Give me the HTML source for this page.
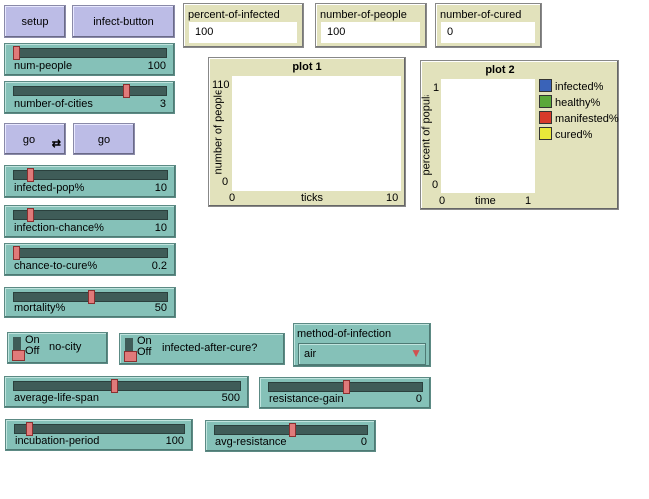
<!DOCTYPE html>
<html><head><style>
body{margin:0;width:649px;height:499px;background:#fff;position:relative;overflow:hidden;font-family:"Liberation Sans",sans-serif;font-size:11px;color:#000}
.w{position:absolute;box-sizing:border-box}
.btn{background:#bcbce6;border:1px solid #8a8aa8;box-shadow:inset -1px -1px #6a6a88, inset 1px 1px #e8e8ff;text-align:center;font-size:11px}
.sl{background:#85c1b8;border:1px solid #5c8a84;box-shadow:inset -1px -1px #4e7a74, inset 1px 1px #c0e4de}
.tr{position:absolute;left:8px;right:7px;top:4px;height:10px;background:#3f5c58;border:1px solid #2b403d;box-sizing:border-box}
.th{position:absolute;top:2px;width:7px;height:14px;background:#e07a7a;border:1px solid #8a3030;box-sizing:border-box}
.lb{position:absolute;left:9px;bottom:3px}
.vl{position:absolute;right:8px;bottom:3px}
.mon{background:#e2e2bc;border:1px solid #888;box-shadow:inset -1px -1px #777, inset 1px 1px #fff}
.fld{position:absolute;background:#fff;left:5px;right:6px;bottom:4px;height:21px;line-height:21px;padding-left:6px}
.plot{background:#e2e2bc;border:1px solid #888;box-shadow:inset -1px -1px #666, inset 1px 1px #fff}
.sw{background:#85c1b8;border:1px solid #5c8a84;box-shadow:inset -1px -1px #4e7a74, inset 1px 1px #c0e4de}
.rot{position:absolute;transform:rotate(-90deg);text-align:center;white-space:nowrap;overflow:hidden;height:13px;line-height:13px}
</style></head><body>
<div class="w btn" style="left:4px;top:5px;width:62px;height:33px;line-height:33px">setup</div>
<div class="w btn" style="left:72px;top:5px;width:103px;height:33px;line-height:33px">infect-button</div>
<div class="w btn" style="left:4px;top:123px;width:62px;height:32px;line-height:32px;padding-right:12px">go<span style="position:absolute;right:4px;top:4px;font-size:11px;font-weight:bold">⇄</span></div>
<div class="w btn" style="left:73px;top:123px;width:62px;height:32px;line-height:32px">go</div>

<div class="w mon" style="left:183px;top:3px;width:121px;height:45px"><span style="position:absolute;left:4px;top:5px">percent-of-infected</span><div class="fld">100</div></div>
<div class="w mon" style="left:315px;top:3px;width:112px;height:45px"><span style="position:absolute;left:4px;top:5px">number-of-people</span><div class="fld">100</div></div>
<div class="w mon" style="left:435px;top:3px;width:107px;height:45px"><span style="position:absolute;left:4px;top:5px">number-of-cured</span><div class="fld">0</div></div>

<div id="sliders"></div>

<div class="w plot" style="left:208px;top:57px;width:198px;height:150px">
 <div style="position:absolute;left:0;right:0;top:3px;text-align:center;font-weight:bold">plot 1</div>
 <div style="position:absolute;left:23px;top:18px;width:169px;height:115px;background:#fff"></div>
 <div style="position:absolute;left:3px;top:21px">110</div>
 <div style="position:absolute;left:13px;top:118px">0</div>
 <div style="position:absolute;left:20px;top:134px">0</div>
 <div style="position:absolute;left:92px;top:134px">ticks</div>
 <div style="position:absolute;left:177px;top:134px">10</div>
 <div class="rot" style="left:-32px;top:68px;width:84px">number of people</div>
</div>
<div class="w plot" style="left:420px;top:60px;width:199px;height:150px">
 <div style="position:absolute;left:30px;top:3px;width:98px;text-align:center;font-weight:bold">plot 2</div>
 <div style="position:absolute;left:20px;top:18px;width:94px;height:114px;background:#fff"></div>
 <div style="position:absolute;left:12px;top:21px">1</div>
 <div style="position:absolute;left:11px;top:118px">0</div>
 <div style="position:absolute;left:18px;top:134px">0</div>
 <div style="position:absolute;left:54px;top:134px">time</div>
 <div style="position:absolute;left:104px;top:134px">1</div>
 <div class="rot" style="left:-34px;top:68px;width:80px">percent of population</div>
 <div style="position:absolute;left:118px;top:18px;line-height:16px;white-space:nowrap">
  <div><span style="display:inline-block;width:11px;height:11px;background:#3a63b8;border:1px solid #333;vertical-align:-2px"></span> infected%</div>
  <div><span style="display:inline-block;width:11px;height:11px;background:#5aa83a;border:1px solid #333;vertical-align:-2px"></span> healthy%</div>
  <div><span style="display:inline-block;width:11px;height:11px;background:#d83a2a;border:1px solid #333;vertical-align:-2px"></span> manifested%</div>
  <div><span style="display:inline-block;width:11px;height:11px;background:#e8e83a;border:1px solid #333;vertical-align:-2px"></span> cured%</div>
 </div>
</div>

<div class="w sw" style="left:7px;top:332px;width:101px;height:32px">
 <div style="position:absolute;left:5px;top:4px;width:8px;height:22px;background:#3f5c58"></div>
 <div style="position:absolute;left:4px;top:17px;width:11px;height:9px;background:#e07a7a;border:1px solid #8a3030"></div>
 <div style="position:absolute;left:17px;top:2px;line-height:11px">On<br>Off</div>
 <div style="position:absolute;left:41px;top:8px">no-city</div>
</div>
<div class="w sw" style="left:119px;top:333px;width:166px;height:32px">
 <div style="position:absolute;left:5px;top:4px;width:8px;height:22px;background:#3f5c58"></div>
 <div style="position:absolute;left:4px;top:17px;width:11px;height:9px;background:#e07a7a;border:1px solid #8a3030"></div>
 <div style="position:absolute;left:17px;top:2px;line-height:11px">On<br>Off</div>
 <div style="position:absolute;left:42px;top:8px">infected-after-cure?</div>
</div>
<div class="w sw" style="left:293px;top:323px;width:138px;height:44px">
 <div style="position:absolute;left:3px;top:4px">method-of-infection</div>
 <div style="position:absolute;left:4px;top:19px;right:4px;height:20px;border:1px solid #4e7a74;box-shadow:inset 1px 1px #c0e4de"><span style="position:absolute;left:5px;top:4px">air</span><span style="position:absolute;right:3px;top:2px;color:#d05050;font-size:12px">▼</span></div>
</div>

<script>
var S=[
[4,43,171,33,"num-people","100",0.0],
[4,81,171,33,"number-of-cities","3",0.74],
[4,165,172,33,"infected-pop%","10",0.09],
[4,205,172,33,"infection-chance%","10",0.09],
[4,243,172,33,"chance-to-cure%","0.2",0.0],
[4,287,172,31,"mortality%","50",0.5],
[4,376,245,32,"average-life-span","500",0.44],
[259,377,172,32,"resistance-gain","0",0.5],
[5,419,188,32,"incubation-period","100",0.07],
[205,420,171,32,"avg-resistance","0",0.5]];
var h="";
S.forEach(function(s){
 var tw=s[2]-15-7;
 var tx=8+Math.round(s[6]*(tw));
 h+='<div class="w sl" style="left:'+s[0]+'px;top:'+s[1]+'px;width:'+s[2]+'px;height:'+s[3]+'px"><div class="tr"></div><div class="th" style="left:'+tx+'px"></div><span class="lb">'+s[4]+'</span><span class="vl">'+s[5]+'</span></div>';
});
document.getElementById("sliders").innerHTML=h;
</script>
</body></html>
